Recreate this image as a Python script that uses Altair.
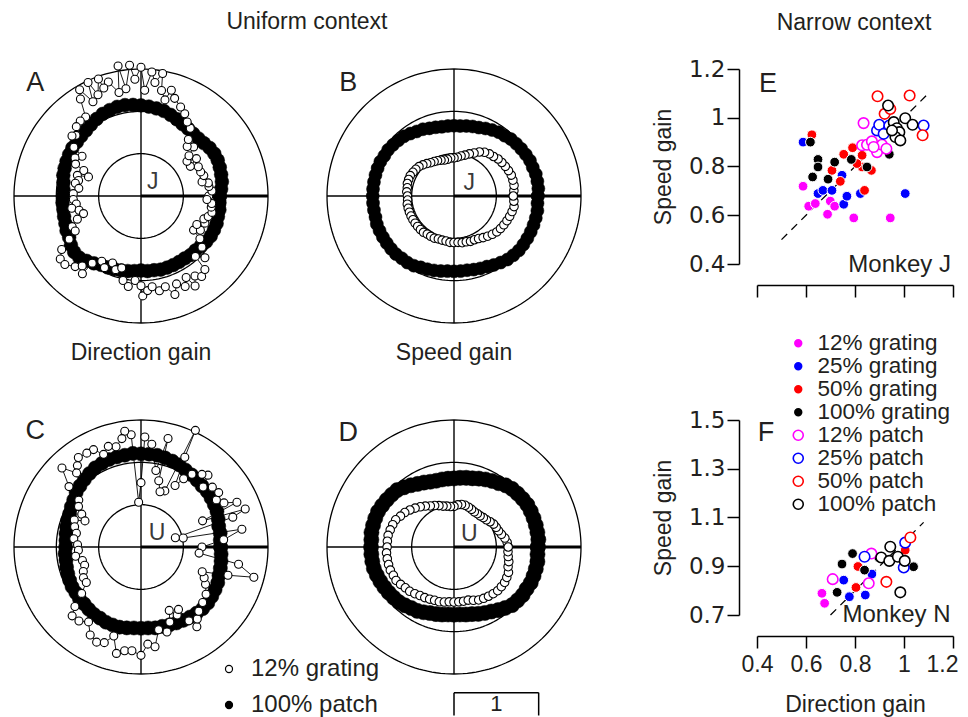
import numpy as np
import pandas as pd
import altair as alt

FONT = "Liberation Sans"
YFONT = "DejaVu Sans"
INK = "#231f20"

# ---------------- Polar panels (gain vs. direction) ----------------
THETA = list(range(0, 360, 5))

A_PATCH100 = [0.93,0.95,0.97,0.98,0.99,1.00,1.00,0.99,0.97,0.96,0.96,0.97,0.98,1.00,1.02,1.04,1.05,1.06,
              1.07,1.08,1.09,1.09,1.08,1.07,1.05,1.03,1.01,1.00,0.99,0.99,0.98,0.97,0.96,0.95,0.93,0.92,
              0.92,0.93,0.93,0.94,0.95,0.97,0.98,1.01,1.03,1.03,1.00,0.97,0.94,0.93,0.92,0.91,0.90,0.89,
              0.88,0.89,0.89,0.90,0.90,0.90,0.90,0.90,0.91,0.91,0.92,0.94,0.95,0.95,0.95,0.94,0.94,0.93]
B_PATCH100 = [0.99,1.00,1.00,1.00,0.99,0.99,0.98,0.97,0.96,0.95,0.93,0.92,0.90,0.88,0.86,0.85,0.84,0.83,
              0.83,0.83,0.83,0.84,0.85,0.87,0.88,0.90,0.92,0.93,0.94,0.95,0.95,0.96,0.96,0.96,0.96,0.96,
              0.96,0.96,0.96,0.96,0.97,0.97,0.97,0.97,0.97,0.97,0.96,0.96,0.95,0.93,0.92,0.91,0.90,0.89,
              0.89,0.89,0.89,0.90,0.91,0.92,0.94,0.96,0.98,0.99,1.00,1.00,1.00,1.00,1.00,1.00,1.00,0.99]
C_PATCH100 = [0.94,0.94,0.95,0.95,0.97,0.99,1.00,1.01,1.02,1.02,1.03,1.04,1.05,1.07,1.08,1.09,1.10,1.10,
              1.10,1.11,1.10,1.10,1.10,1.09,1.08,1.06,1.04,1.02,1.00,0.97,0.95,0.93,0.92,0.91,0.90,0.89,
              0.89,0.90,0.90,0.91,0.92,0.93,0.94,0.94,0.95,0.95,0.96,0.97,0.97,0.98,0.98,0.98,0.97,0.96,
              0.96,0.96,0.97,0.97,0.98,0.99,1.00,1.01,1.02,1.03,1.03,1.02,1.01,1.00,0.98,0.97,0.96,0.95]
D_PATCH100 = [0.99,1.00,1.00,1.00,1.00,1.00,1.00,0.99,0.98,0.97,0.95,0.92,0.90,0.88,0.86,0.84,0.83,0.82,
              0.81,0.81,0.81,0.81,0.82,0.84,0.86,0.89,0.92,0.95,0.96,0.97,0.98,0.99,0.99,0.99,0.99,0.98,
              0.98,0.98,0.98,0.98,0.97,0.96,0.95,0.94,0.93,0.92,0.90,0.88,0.87,0.85,0.83,0.82,0.81,0.80,
              0.80,0.80,0.81,0.82,0.84,0.86,0.88,0.91,0.94,0.97,0.98,0.99,0.99,1.00,1.00,1.00,1.00,0.99]
B_GRAT12 = [0.70,0.71,0.72,0.72,0.72,0.71,0.70,0.69,0.68,0.66,0.65,0.63,0.60,0.56,0.53,0.50,0.48,0.46,
            0.45,0.45,0.44,0.44,0.45,0.46,0.47,0.48,0.50,0.52,0.54,0.55,0.56,0.57,0.57,0.57,0.56,0.56,
            0.55,0.55,0.56,0.56,0.56,0.56,0.56,0.56,0.56,0.56,0.56,0.55,0.55,0.55,0.54,0.54,0.54,0.55,
            0.55,0.55,0.56,0.56,0.57,0.57,0.58,0.60,0.62,0.64,0.66,0.67,0.68,0.69,0.70,0.71,0.72,0.71]
D_GRAT12 = [0.64,0.63,0.61,0.58,0.56,0.55,0.54,0.52,0.50,0.49,0.48,0.48,0.48,0.49,0.50,0.51,0.51,0.50,
            0.48,0.48,0.49,0.50,0.52,0.54,0.56,0.59,0.62,0.65,0.68,0.71,0.73,0.76,0.77,0.78,0.79,0.79,
            0.79,0.80,0.80,0.80,0.80,0.79,0.79,0.77,0.75,0.74,0.72,0.70,0.69,0.68,0.67,0.67,0.66,0.65,
            0.65,0.65,0.65,0.65,0.67,0.69,0.70,0.71,0.72,0.73,0.73,0.73,0.72,0.71,0.68,0.67,0.65,0.64]
A_GRAT12_THETA = [0,4,8,11,13,18,22,27,31,34,37,40,43,47,50,54,58,62,66,71,74,76,79,80,83,85,88,90,93,95,
                  98,100,102,106,109,110,113,115,117,120,122,125,129,133,137,139,144,146,150,154,156,160,
                  162,166,169,173,178,183,187,190,193,197,200,204,208,211,214,218,222,227,230,233,234,239,
                  243,247,251,255,258,262,266,270,271,274,277,281,285,289,292,296,299,301,304,307,311,312,
                  316,320,324,327,330,333,337,340,343,347,351,354,357]
A_GRAT12_R = [0.80,0.84,0.81,0.81,0.74,0.78,0.76,0.76,0.68,0.79,0.68,0.74,0.85,0.80,0.87,0.99,1.03,1.10,
              1.15,1.22,1.30,1.17,1.27,1.47,1.35,1.47,1.25,1.52,1.38,1.55,1.28,1.56,1.25,1.40,1.35,1.47,
              1.30,1.48,1.25,1.45,1.35,1.14,1.14,1.12,1.05,1.08,0.98,0.84,0.90,0.86,0.74,0.66,0.79,0.76,
              0.79,0.74,0.80,0.80,0.77,0.83,0.75,0.71,0.80,0.89,0.88,0.99,1.13,1.21,1.21,1.14,1.08,1.15,
              0.98,0.90,0.95,0.86,0.92,0.88,1.02,1.08,1.00,1.06,1.18,1.12,1.08,1.14,1.11,1.23,1.12,1.19,
              1.10,1.24,1.14,1.19,1.15,0.96,1.05,0.94,0.86,0.74,0.81,0.74,0.82,0.79,0.83,0.86,0.84,0.84,0.78]
C_GRAT12_THETA = [0,5,10,12,15,18,20,23,25,28,32,35,40,44,47,50,55,58,61,64,65,67,71,75,76,79,84,88,90,93,
                  95,98,100,104,108,112,116,120,125,128,131,135,140,143,147,151,155,158,163,168,173,178,
                  183,188,193,198,203,208,213,218,222,225,230,235,240,245,249,253,257,261,265,270,274,278,
                  282,287,291,294,298,301,303,305,308,312,318,324,330,334,338,342,345,350,354]
C_GRAT12_R = [0.72,0.98,1.21,0.51,0.42,1.14,1.31,0.79,1.25,1.11,1.05,1.12,1.10,1.02,1.16,1.12,1.05,0.95,
              0.83,1.18,1.52,0.72,0.69,0.81,1.32,0.92,1.22,1.30,0.76,0.53,1.33,1.38,1.30,1.22,1.25,1.18,
              1.28,1.28,1.29,1.22,1.16,1.32,1.11,0.92,0.88,0.80,0.73,0.85,0.82,0.78,0.80,0.75,0.74,0.78,
              0.71,0.70,0.74,0.77,0.77,0.89,1.05,1.15,1.14,1.08,1.20,1.24,1.21,1.10,1.29,1.24,1.23,1.28,
              1.15,1.19,1.00,1.05,0.95,0.82,0.91,0.86,1.04,1.15,1.08,1.02,0.98,0.95,0.88,0.83,0.78,1.08,
              1.38,1.17,0.69]

RING_RADII = [0.5, 1.0, 1.5]
SCALE_BAR = 1.0
SERIES = ["12% grating", "100% patch"]

# ---------------- Scatter panels (narrow context) ----------------
CONDITIONS = ["12% grating", "25% grating", "50% grating", "100% grating",
              "12% patch", "25% patch", "50% patch", "100% patch"]
COND_FILL = ["#ff00ff", "#0000ff", "#ff0000", "#000000", "#ffffff", "#ffffff", "#ffffff", "#ffffff"]
COND_STROKE = ["#ffffff", "#ffffff", "#ffffff", "#ffffff", "#ff00ff", "#0000ff", "#ff0000", "#000000"]

E_DIR = {
    "12% grating": [0.588, 0.611, 0.638, 0.688, 0.699, 0.717, 0.795, 0.944],
    "25% grating": [0.588, 0.747, 0.649, 0.669, 0.706, 0.754, 0.767, 0.822, 1.005],
    "50% grating": [0.624, 0.706, 0.740, 0.754, 0.790, 0.829, 0.867, 0.839, 0.829, 0.808],
    "100% grating": [0.618, 0.649, 0.649, 0.627, 0.690, 0.717, 0.785, 0.849, 0.940],
    "12% patch": [0.835, 0.829, 0.849, 0.869, 0.890, 0.910, 0.928, 0.876],
    "25% patch": [0.890, 0.899, 0.917, 0.940, 1.080],
    "50% patch": [0.892, 1.023, 0.921, 1.076, 0.944],
    "100% patch": [0.935, 0.958, 0.971, 1.005, 1.035, 0.981, 0.965, 0.985, 0.951],
}
E_SPD = {
    "12% grating": [0.719, 0.637, 0.648, 0.604, 0.658, 0.637, 0.589, 0.589],
    "25% grating": [0.900, 0.764, 0.689, 0.702, 0.702, 0.645, 0.678, 0.689, 0.689],
    "50% grating": [0.930, 0.784, 0.739, 0.850, 0.877, 0.798, 0.784, 0.702, 0.846, 0.812],
    "100% grating": [0.900, 0.829, 0.798, 0.757, 0.748, 0.818, 0.829, 0.798, 0.850],
    "12% patch": [0.978, 0.887, 0.889, 0.903, 0.859, 0.889, 0.873, 0.880],
    "25% patch": [0.948, 0.971, 0.934, 0.968, 0.968],
    "50% patch": [1.088, 1.091, 1.016, 0.928, 1.036],
    "100% patch": [1.050, 0.982, 0.957, 0.998, 0.971, 0.941, 0.921, 0.907, 0.948],
}
F_DIR = {
    "12% grating": [0.665, 0.676],
    "25% grating": [0.754, 0.777, 0.842, 0.869],
    "50% grating": [0.804, 0.812, 1.005],
    "100% grating": [0.727, 0.747, 0.790, 0.839, 1.039, 0.897],
    "12% patch": [0.709, 0.856, 0.867],
    "25% patch": [0.839, 0.999, 1.005],
    "50% patch": [0.928, 1.026],
    "100% patch": [0.907, 0.944, 0.940, 0.975, 1.003, 0.985],
}
F_SPD = {
    "12% grating": [0.789, 0.748],
    "25% grating": [0.843, 0.775, 0.782, 0.868],
    "50% grating": [0.813, 0.899, 0.966],
    "100% grating": [0.793, 0.909, 0.952, 0.884, 0.898, 0.936],
    "12% patch": [0.847, 0.830, 0.952],
    "25% patch": [0.939, 0.895, 0.997],
    "50% patch": [0.836, 1.018],
    "100% patch": [0.936, 0.980, 0.922, 0.939, 0.922, 0.793],
}
E_DIAG = [0.5, 1.09]
F_DIAG = [0.7, 1.08]
X_TICKS = [0.4, 0.6, 0.8, 1.0, 1.2]
E_Y_TICKS = [0.4, 0.6, 0.8, 1.0, 1.2]
F_Y_TICKS = [0.7, 0.9, 1.1, 1.3, 1.5]

# ---------------- helpers ----------------
U = 254 / 3.0  # pixels per gain unit in the polar panels


def ring_df(theta, r, series, close):
    th = list(theta)
    rr = list(r)
    if close:
        th.append(th[0])
        rr.append(rr[0])
    t = np.deg2rad(np.array(th, dtype=float))
    rr = np.array(rr, dtype=float)
    return pd.DataFrame({"i": np.arange(len(rr)), "x": rr * np.cos(t), "y": rr * np.sin(t),
                         "series": series})


_ang = np.deg2rad(np.arange(0, 361, 2))
GUIDES = pd.concat([pd.DataFrame({"ring": rad, "k": np.arange(len(_ang)),
                                  "x": rad * np.cos(_ang), "y": rad * np.sin(_ang)})
                    for rad in RING_RADII], ignore_index=True)


def txt(x, y, s, X, Y, size=23, align="center", color=INK):
    return alt.Chart(pd.DataFrame({"x": [x], "y": [y], "t": [s]})).mark_text(
        font=FONT, fontSize=size, align=align, baseline="middle", color=color
    ).encode(x=X, y=Y, text="t:N")


def polar_panel(fill_df, open_df, letter, letter_y, monkey, monkey_xy, width,
                fill_size, open_size, legend, extras=(), bar=False):
    xs = alt.Scale(domain=[-1.5, -1.5 + width / U], nice=False, zero=False)
    ys = alt.Scale(domain=[-1.5, 1.5], nice=False, zero=False)
    X = alt.X("x:Q", scale=xs, axis=None)
    Y = alt.Y("y:Q", scale=ys, axis=None)
    FILL = alt.Fill("series:N", scale=alt.Scale(domain=SERIES, range=["#ffffff", "#000000"]),
                    legend=legend)
    guides = alt.Chart(GUIDES).mark_line(color="black", strokeWidth=1.3).encode(
        x=X, y=Y, detail="ring:N", order="k:Q")
    vline = alt.Chart(pd.DataFrame({"x": [0.0], "y": [-1.5], "y2": [1.5]})).mark_rule(
        color="black", strokeWidth=1.4).encode(x=X, y=Y, y2="y2:Q")
    hleft = alt.Chart(pd.DataFrame({"x": [-1.5], "x2": [0.0], "y": [0.0]})).mark_rule(
        color="black", strokeWidth=1.4).encode(x=X, x2="x2:Q", y=Y)
    hright = alt.Chart(pd.DataFrame({"x": [0.0], "x2": [1.5], "y": [0.0]})).mark_rule(
        color="black", strokeWidth=2.8).encode(x=X, x2="x2:Q", y=Y)
    fline = alt.Chart(fill_df).mark_line(color="black", strokeWidth=1).encode(x=X, y=Y, order="i:Q")
    fpts = alt.Chart(fill_df).mark_point(shape="circle", filled=True, size=fill_size, stroke="black",
                                         strokeWidth=0.5, opacity=1).encode(x=X, y=Y, fill=FILL)
    oline = alt.Chart(open_df).mark_line(color="black", strokeWidth=0.9).encode(x=X, y=Y, order="i:Q")
    opts = alt.Chart(open_df).mark_point(shape="circle", filled=True, size=open_size, stroke="black",
                                         strokeWidth=1.1, opacity=1).encode(x=X, y=Y, fill=FILL)
    layers = [guides, vline, hleft, hright, fline, fpts, oline, opts,
              txt(-1.25, letter_y, letter, X, Y, size=27),
              txt(monkey_xy[0], monkey_xy[1], monkey, X, Y, size=23, color="#3a3a3a")]
    for ex, ey, s in extras:
        layers.append(txt(ex, ey, s, X, Y, size=23))
    if bar:
        seg = pd.DataFrame({"x": [0.0, 0.0, SCALE_BAR], "x2": [SCALE_BAR, 0.0, SCALE_BAR],
                            "y": [-1.72, -1.72, -1.72], "y2": [-1.72, -1.99, -1.99]})
        layers.append(alt.Chart(seg).mark_rule(color="black", strokeWidth=1.5).encode(
            x=X, x2="x2:Q", y=Y, y2="y2:Q"))
        layers.append(txt(SCALE_BAR / 2, -1.86, "1", X, Y, size=22))
    return alt.layer(*layers).properties(width=width, height=254)


def cond_df(dirs, spds, conds):
    rows = []
    for c in conds:
        for d, s in zip(dirs[c], spds[c]):
            rows.append({"x": d, "y": s, "cond": c})
    return pd.DataFrame(rows)


def axis_common():
    return dict(tickSize=12, tickWidth=1.5, domainWidth=1.5, domainColor="black", tickColor="black",
                labelFontSize=23, labelColor=INK, titleFont=FONT, titleFontSize=23,
                titleColor=INK, titleFontWeight="normal", grid=False, labelFlush=False)


LAST_TICK = "datum.value >= 1.19"


def scatter_panel(dirs, spds, diag, ydom, yticks, show_x, letter, letter_xy, monkey, monkey_xy,
                  legend, extras=()):
    xs = alt.Scale(domain=[0.4, 1.2], nice=False, zero=False)
    ys = alt.Scale(domain=ydom, nice=False, zero=False)
    if show_x:
        xaxis = alt.Axis(values=X_TICKS, format="~g", title="Direction gain", offset=21,
                         labelFont=FONT, labelPadding=5, titlePadding=17,
                         labelAlign={"condition": {"test": LAST_TICK, "value": "right"}, "value": "center"},
                         labelOffset={"condition": {"test": LAST_TICK, "value": 5}, "value": 0},
                         **axis_common())
    else:
        xaxis = alt.Axis(values=X_TICKS, labels=False, title=None, offset=21, **axis_common())
    yaxis = alt.Axis(values=yticks, format="~g", title="Speed gain", offset=18, labelPadding=2,
                     labelFont=YFONT, titlePadding=13, **axis_common())
    X = alt.X("x:Q", scale=xs, axis=xaxis)
    Y = alt.Y("y:Q", scale=ys, axis=yaxis)
    FILL = alt.Fill("cond:N", scale=alt.Scale(domain=CONDITIONS, range=COND_FILL), legend=legend)
    STROKE = alt.Stroke("cond:N", scale=alt.Scale(domain=CONDITIONS, range=COND_STROKE), legend=legend)
    diag_df = pd.DataFrame({"x": diag, "y": diag})
    dline = alt.Chart(diag_df).mark_line(color="black", strokeWidth=1.3, strokeDash=[8, 6]).encode(x=X, y=Y)
    filled = alt.Chart(cond_df(dirs, spds, CONDITIONS[:4])).mark_point(
        shape="circle", filled=True, size=95, strokeWidth=1, opacity=1).encode(x=X, y=Y, fill=FILL, stroke=STROKE)
    opened = alt.Chart(cond_df(dirs, spds, CONDITIONS[4:])).mark_point(
        shape="circle", filled=True, size=110, strokeWidth=1.6, opacity=1).encode(x=X, y=Y, fill=FILL, stroke=STROKE)
    layers = [dline, filled, opened,
              txt(letter_xy[0], letter_xy[1], letter, X, Y, size=27),
              txt(monkey_xy[0], monkey_xy[1], monkey, X, Y, size=24, align="right")]
    for ex, ey, s in extras:
        layers.append(txt(ex, ey, s, X, Y, size=23))
    return alt.layer(*layers).properties(width=196, height=195)


LEG_POLAR = alt.Legend(title=None, orient="none", legendX=203, legendY=237, labelFont=FONT,
                       labelFontSize=24, labelColor=INK, symbolType="circle", symbolSize=50,
                       symbolStrokeColor="black", symbolStrokeWidth=1.2, rowPadding=12,
                       labelOffset=10, padding=0)
LEG_COND = alt.Legend(title=None, orient="none", legendX=30, legendY=-88, labelFont=FONT,
                      labelFontSize=22.5, labelColor=INK, symbolType="circle", symbolSize=100,
                      symbolStrokeWidth=1.6, rowPadding=0, labelOffset=8, padding=0)

W1, W2 = 254, 371

A = polar_panel(ring_df(THETA, A_PATCH100, SERIES[1], True),
                ring_df(A_GRAT12_THETA, A_GRAT12_R, SERIES[0], False),
                "A", 1.33, "J", (0.14, 0.165), W1, 190, 64, None,
                extras=[(1.96, 2.055, "Uniform context"), (0.0, -1.86, "Direction gain")])
B = polar_panel(ring_df(THETA, B_PATCH100, SERIES[1], True),
                ring_df(THETA, B_GRAT12, SERIES[0], True),
                "B", 1.33, "J", (0.18, 0.15), W2, 170, 72, None,
                extras=[(0.0, -1.86, "Speed gain")])
C = polar_panel(ring_df(THETA, C_PATCH100, SERIES[1], True),
                ring_df(C_GRAT12_THETA, C_GRAT12_R, SERIES[0], False),
                "C", 1.37, "U", (0.19, 0.165), W1, 200, 64, LEG_POLAR)
D = polar_panel(ring_df(THETA, D_PATCH100, SERIES[1], True),
                ring_df(THETA, D_GRAT12, SERIES[0], True),
                "D", 1.35, "U", (0.18, 0.15), W2, 230, 72, None, bar=True)
E = scatter_panel(E_DIR, E_SPD, E_DIAG, [0.4, 1.2], E_Y_TICKS, False, "E", (0.445, 1.139),
                  "Monkey J", (1.192, 0.397), None, extras=[(0.796, 1.389, "Narrow context")])
F = scatter_panel(F_DIR, F_SPD, F_DIAG, [0.7, 1.5], F_Y_TICKS, True, "F", (0.437, 1.447),
                  "Monkey N", (1.19, 0.70), LEG_COND)

chart = alt.concat(A, B, E, C, D, F, columns=3, spacing={"row": 97, "column": 59},
                   bounds="flush").resolve_scale(fill="independent", stroke="independent").properties(
    padding={"left": 3, "top": 3, "right": 0, "bottom": 0}
).configure_view(stroke=None)

chart.save("out.html", embed_options={"renderer": "svg", "actions": False})
